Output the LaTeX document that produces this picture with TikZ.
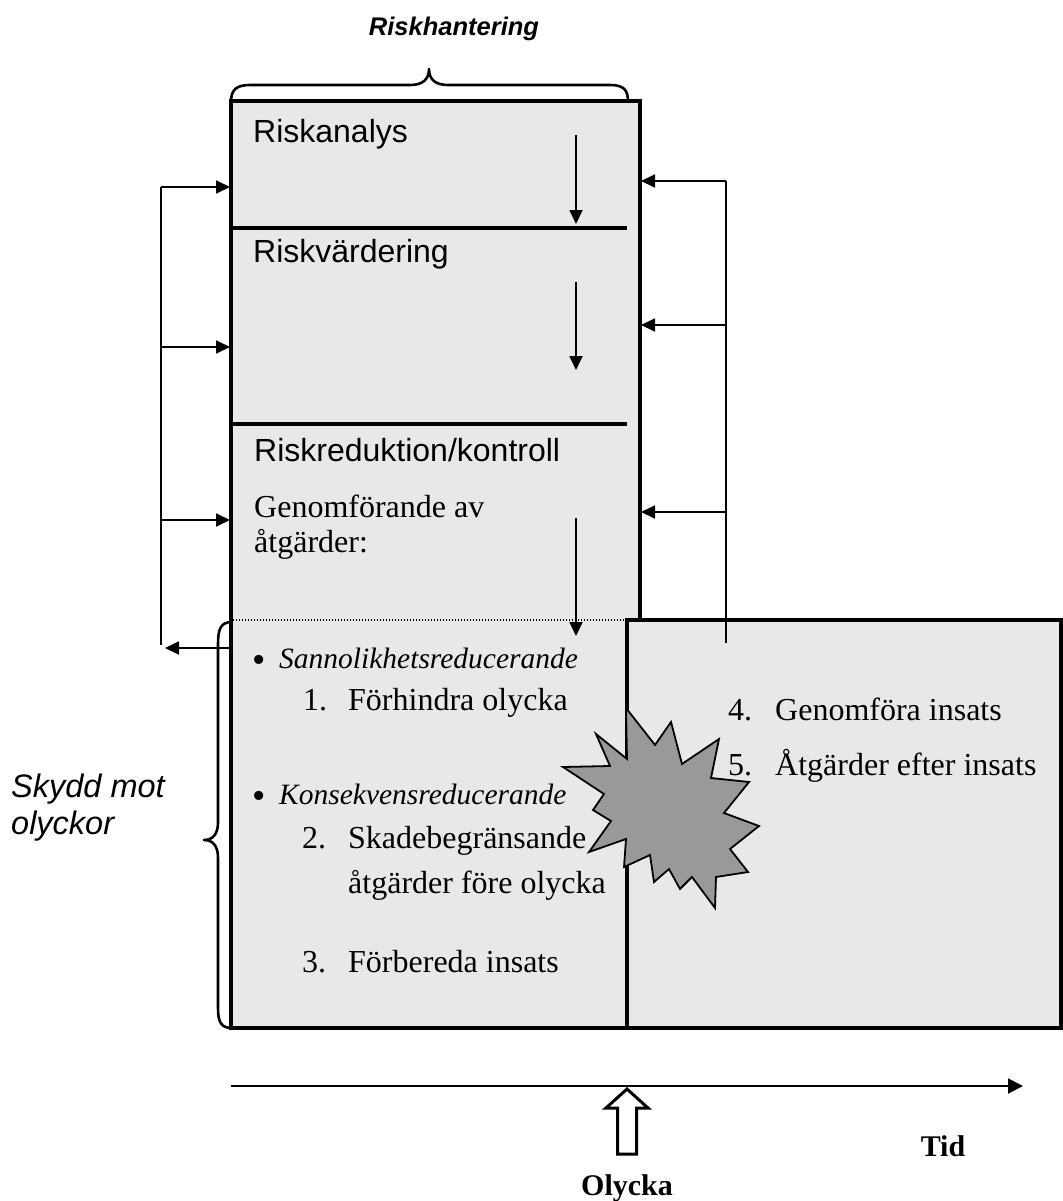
\documentclass[tikz,border=0pt]{standalone}
\usepackage{fontspec}
\setmainfont{Liberation Serif}
\setsansfont{Liberation Sans}
\usetikzlibrary{arrows.meta}
\newcommand\fsans{\sffamily\fontsize{32}{38}\selectfont}
\newcommand\fisans{\sffamily\itshape\fontsize{32.5}{37}\selectfont}
\newcommand\fserif{\rmfamily\fontsize{32}{38}\selectfont}
\newcommand\fiserif{\rmfamily\itshape\fontsize{29.5}{35}\selectfont}
\newcommand\fbserif{\rmfamily\bfseries\fontsize{30}{36}\selectfont}
\newcommand\fbisans{\sffamily\bfseries\itshape\fontsize{25.5}{30}\selectfont}
\newcommand\fbullet{\rmfamily\fontsize{38}{40}\selectfont}
\definecolor{boxgray}{HTML}{E8E8E8}
\definecolor{stargray}{HTML}{999999}
\begin{document}
\begin{tikzpicture}[x=1pt,y=-1pt,
  lbl/.style={anchor=base west,inner sep=0pt},
  clbl/.style={anchor=base,inner sep=0pt},
  border/.style={line width=3.2pt},
  conn/.style={line width=1.8pt},
  arr/.style={conn,-{Triangle[length=14pt,width=13pt]}},
  brace/.style={line width=2.6pt,line cap=round,line join=round}]
\useasboundingbox (0,0) rectangle (1062,1201);
% fill
\fill[boxgray] (231,101) -- (640,101) -- (640,620) -- (1061,620) -- (1061,1028) -- (231,1028) -- cycle;
% borders
\draw[border] (231,1028) -- (231,101) -- (640,101) -- (640,621.6);
\draw[border] (229.4,1028) -- (1061,1028) -- (1061,620) -- (627,620) -- (627,1028);
\draw[border] (231,228) -- (627,228);
\draw[border] (231,424) -- (627,424);
\draw[line width=1.3pt,dash pattern=on 1.3pt off 1.7pt] (233,620) -- (627,620);

% coordinates
\coordinate (d1a) at (576,135); \coordinate (d1b) at (576,224);
\coordinate (d2a) at (576,282); \coordinate (d2b) at (576,370);
\coordinate (d3a) at (576,518); \coordinate (d3b) at (576,636);
\coordinate (lt) at (161,187); \coordinate (lb) at (161,645);
\coordinate (l1) at (161,187); \coordinate (l1e) at (230,187);
\coordinate (l2) at (161,347); \coordinate (l2e) at (230,347);
\coordinate (l3) at (161,520); \coordinate (l3e) at (230,520);
\coordinate (l4) at (231,648); \coordinate (l4e) at (165,648);
\coordinate (rt) at (726,181); \coordinate (rb) at (726,643);
\coordinate (r1) at (726,181); \coordinate (r1e) at (641,181);
\coordinate (r2) at (726,325); \coordinate (r2e) at (641,325);
\coordinate (r3) at (726,512); \coordinate (r3e) at (641,512);
\coordinate (ax1) at (231,1086); \coordinate (ax2) at (1023,1086);

\draw[arr] (d1a) -- (d1b);
\draw[arr] (d2a) -- (d2b);
\draw[arr] (d3a) -- (d3b);
\draw[conn] (lt) -- (lb);
\draw[arr] (l1) -- (l1e);
\draw[arr] (l2) -- (l2e);
\draw[arr] (l3) -- (l3e);
\draw[arr] (l4) -- (l4e);
\draw[conn] (rt) -- (rb);
\draw[arr] (r1) -- (r1e);
\draw[arr] (r2) -- (r2e);
\draw[arr] (r3) -- (r3e);
\draw[line width=2pt,-{Triangle[length=15pt,width=15pt]}] (ax1) -- (ax2);

% top brace
\draw[brace] (231,102) .. controls (231,90) and (236,85) .. (250,85) -- (410,85)
  .. controls (422,85) and (429,80) .. (429,69)
  .. controls (429,80) and (436,85) .. (448,85) -- (610,85)
  .. controls (624,85) and (628,90) .. (628,102);
% left brace
\draw[brace] (232,622) .. controls (220,622) and (218,630) .. (218,645) -- (218,822)
  .. controls (218,834) and (213,840) .. (204,840)
  .. controls (213,840) and (218,846) .. (218,858) -- (218,1008)
  .. controls (218,1022) and (221,1028) .. (232,1028);

% star
\draw[fill=stargray,line width=1.8pt,line join=miter]
 (626,708) -- (655,745) -- (671,722) -- (682,764) -- (719,739) -- (711,778)
 -- (749,782) -- (724,813) -- (759,826) -- (730,849) -- (748,872) -- (716,877)
 -- (715,908) -- (692,877) -- (680,889) -- (669,869) -- (654,882) -- (650,855)
 -- (624,867) -- (626,839) -- (589,852) -- (611,821) -- (593,810) -- (604,794)
 -- (563,767) -- (610,766) -- (596,734) -- (627,759) -- cycle;

% hollow arrow
\draw[line width=3pt,line join=miter,fill=white] (627,1089) -- (648,1108) -- (636.5,1108) -- (636.5,1154)
  -- (617.5,1154) -- (617.5,1108) -- (606,1108) -- cycle;

% texts
\node[clbl,font=\fbisans] (title) at (454,36) {Riskhantering};
\node[lbl,font=\fsans] (t1) at (253,143) {Riskanalys};
\node[lbl,font=\fsans] (t2) at (253,262) {Riskvärdering};
\node[lbl,font=\fsans] (t3) at (254,461) {Riskreduktion/kontroll};
\node[lbl,font=\fserif] (t4) at (254,517) {Genomförande av};
\node[lbl,font=\fserif] (t5) at (254,552) {åtgärder:};
\node[lbl,font=\fbullet] (b1) at (252,672) {•};
\node[lbl,font=\fiserif] (s1) at (279,668) {Sannolikhetsreducerande};
\node[lbl,font=\fserif] (n1) at (303,710) {1.};
\node[lbl,font=\fserif] (i1) at (348,710) {Förhindra olycka};
\node[lbl,font=\fbullet] (b2) at (252,808) {•};
\node[lbl,font=\fiserif] (s2) at (279,804) {Konsekvensreducerande};
\node[lbl,font=\fserif] (n2) at (302,848) {2.};
\node[lbl,font=\fserif] (i2) at (348,848) {Skadebegränsande};
\node[lbl,font=\fserif] (i2b) at (348,893) {åtgärder före olycka};
\node[lbl,font=\fserif] (n3) at (302,972) {3.};
\node[lbl,font=\fserif] (i3) at (348,972) {Förbereda insats};
\node[lbl,font=\fserif] (n4) at (728,720) {4.};
\node[lbl,font=\fserif] (i4) at (775,720) {Genomföra insats};
\node[lbl,font=\fserif] (n5) at (728,775) {5.};
\node[lbl,font=\fserif] (i5) at (775,775) {Åtgärder efter insats};
\node[lbl,font=\fisans] (sk1) at (11,797) {Skydd mot};
\node[lbl,font=\fisans] (sk2) at (11,834) {olyckor};
\node[clbl,font=\fbserif] (tid) at (943,1156) {Tid};
\node[clbl,font=\fbserif] (oly) at (627,1195) {Olycka};
\end{tikzpicture}
\end{document}
